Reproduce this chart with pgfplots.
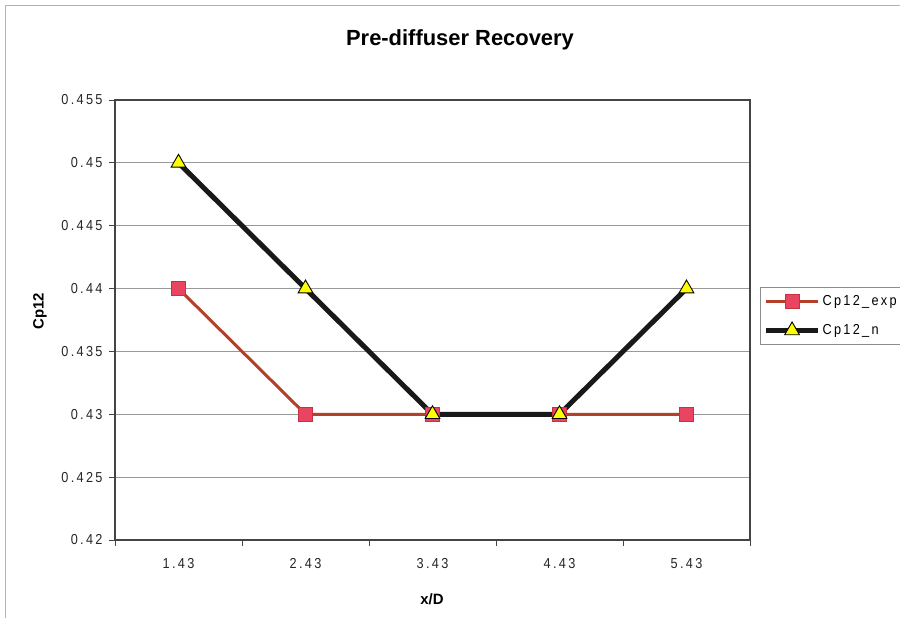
\documentclass[border=0pt]{standalone}
\usepackage{fontspec}
\setmainfont{Liberation Sans}
\newfontfamily\lsfont[LetterSpace=16, FakeStretch=0.88]{Liberation Sans}
\usepackage{pgfplots}
\pgfplotsset{compat=1.18}
\definecolor{expline}{HTML}{B3402A}
\definecolor{expmark}{HTML}{EA4560}
\definecolor{expedge}{HTML}{C83040}
\definecolor{nmark}{HTML}{FFFF00}
\definecolor{framegray}{HTML}{444444}
\begin{document}
\begin{tikzpicture}[x=1bp,y=1bp]
\path[use as bounding box] (0,0) rectangle (900,621);
\draw[black!30, line width=0.8bp] (5,3) -- (5,616) -- (905,616);
\begin{axis}[
  at={(115bp,81bp)}, anchor=south west,
  scale only axis, width=635bp, height=440bp,
  xmin=-0.5, xmax=4.5, ymin=0.42, ymax=0.455,
  xtick={-0.5,0.5,1.5,2.5,3.5,4.5},
  x tick label as interval,
  xticklabels={1.43,2.43,3.43,4.43,5.43},
  ytick={0.42,0.425,0.43,0.435,0.44,0.445,0.45,0.455},
  yticklabels={0.42,0.425,0.43,0.435,0.44,0.445,0.45,0.455},
  xtick pos=bottom, ytick pos=left,
  /pgf/number format/assume math mode=true,
  ymajorgrids,
  grid style={black!40, line width=0.8bp},
  tick align=outside,
  major tick length=6bp,
  tick style={framegray, line width=0.8bp},
  axis line style={framegray, line width=2bp},
  every tick label/.append style={font=\lsfont\fontsize{14.5}{16}\selectfont, text=black!85},
  xticklabel style={yshift=-9bp},
  yticklabel style={xshift=-3bp},
  legend style={
    at={(1.016,0.575)}, anchor=north west,
    draw=black!45, line width=0.8bp,
    font=\lsfont\fontsize{14.5}{16}\selectfont,
    row sep=13bp, inner xsep=3bp, inner ysep=6bp,
    cells={anchor=west},
  },
  legend image code/.code={
    \draw[mark repeat=2, mark phase=2] plot coordinates {(0bp,0bp) (26bp,0bp) (52bp,0bp)};
  },
]
\addplot[expline, line width=3bp, mark=square*,
  mark options={fill=expmark, draw=expedge, line width=0.6bp}, mark size=7bp]
  coordinates {(0,0.44) (1,0.43) (2,0.43) (3,0.43) (4,0.43)};
\addlegendentry{Cp12\_exp}
\addplot[black!90, line width=5bp, mark=triangle*,
  mark options={fill=nmark, draw=black, line width=0.9bp}, mark size=8.5bp]
  coordinates {(0,0.45) (1,0.44) (2,0.43) (3,0.43) (4,0.44)};
\addlegendentry{Cp12\_n}
\end{axis}
\node[font=\bfseries\fontsize{22}{24}\selectfont] at (460,581) {Pre-diffuser Recovery};
\node[font=\bfseries\fontsize{15}{17}\selectfont, rotate=90] at (40,310) {Cp12};
\node[font=\bfseries\fontsize{15}{17}\selectfont] at (432,22) {x/D};
\end{tikzpicture}
\end{document}
